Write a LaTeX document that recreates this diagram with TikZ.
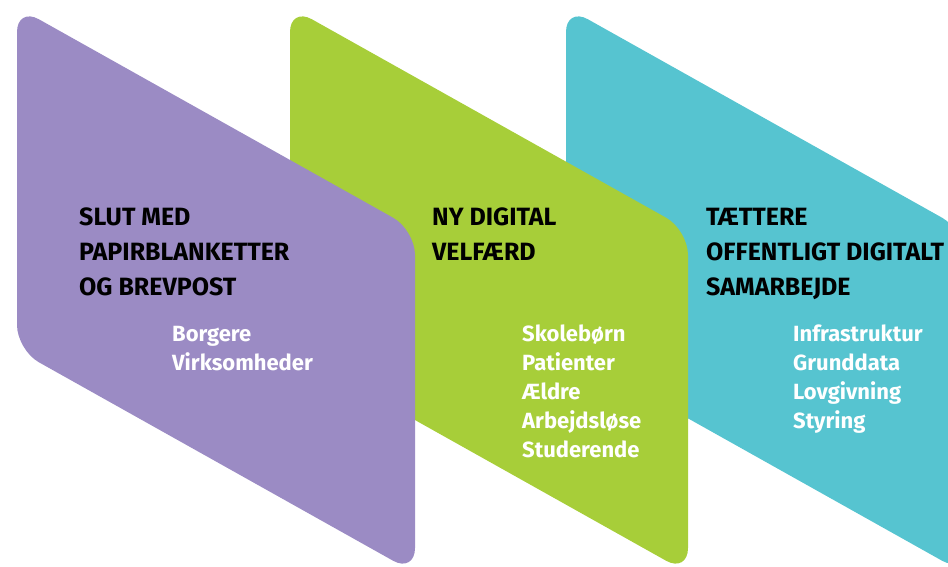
\documentclass[tikz,border=0pt]{standalone}
\usepackage{fontspec}
\setmainfont{Fira Sans}
\definecolor{lilla}{RGB}{155,139,196}
\definecolor{groen}{RGB}{167,206,57}
\definecolor{tyrkis}{RGB}{86,196,208}
\begin{document}
\begin{tikzpicture}[x=1pt, y=-1pt, line join=round,
  title/.style={anchor=base west, inner sep=0, align=left, font=\bfseries\fontsize{25}{35}\selectfont},
  items/.style={anchor=base west, inner sep=0, align=left, text=white, font=\bfseries\fontsize{22}{29}\selectfont}]
  \def\w{398} \def\s{223} \def\h{343} % bredde, fald, hoejde
  \useasboundingbox (0,0) rectangle (948,566);
  \clip (0,0) rectangle (948,566);
  \fill[tyrkis, rounded corners=25] (566,7) -- ++(\w,\s) -- ++(0,\h) -- ++(-\w,-\s) -- cycle;
  \fill[groen, rounded corners=25] (290,7) -- ++(\w,\s) -- ++(0,\h) -- ++(-\w,-\s) -- cycle;
  \fill[lilla, rounded corners=25] (17,7) -- ++(\w,\s) -- ++(0,\h) -- ++(-\w,-\s) -- cycle;
  % overskrifter (placeret ved sidste linjes grundlinje)
  \node[title] (papir) at (79,295) {SLUT MED\\PAPIRBLANKETTER\\OG BREVPOST};
  \node[title] (velfaerd) at (432,260) {NY DIGITAL\\VELFÆRD};
  \node[title] (samarbejde) at (706,295) {TÆTTERE\\OFFENTLIGT DIGITALT\\SAMARBEJDE};
  % maalgrupper
  \node[items] (borgere) at (172,370) {Borgere\\Virksomheder};
  \node[items] (grupper) at (522,457) {Skolebørn\\Patienter\\Ældre\\Arbejdsløse\\Studerende};
  \node[items] (omraader) at (793,428) {Infrastruktur\\Grunddata\\Lovgivning\\Styring};
\end{tikzpicture}
\end{document}
